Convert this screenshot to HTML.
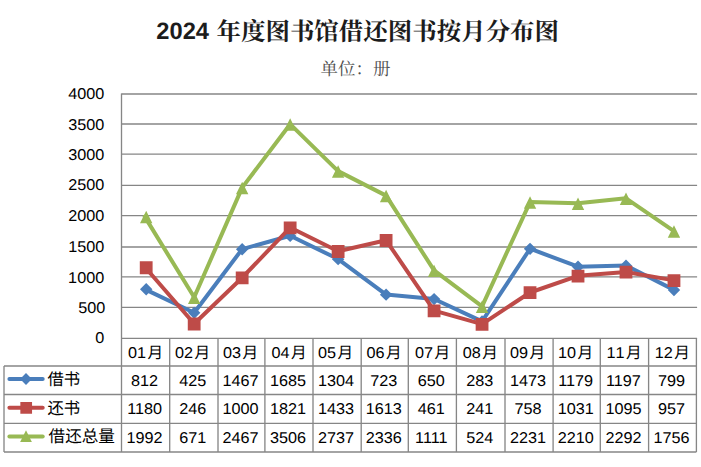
<!DOCTYPE html>
<html lang="zh-CN"><head><meta charset="utf-8">
<title>2024 年度图书馆借还图书按月分布图</title>
<style>
html,body{margin:0;padding:0;background:#fff;}
body{width:701px;height:467px;overflow:hidden;font-family:"Liberation Sans",sans-serif;}
svg{display:block;}
text{font-family:"Liberation Sans","Noto Sans CJK SC",sans-serif;text-rendering:geometricPrecision;}
.num{font-size:15.6px;fill:#000;}
.grid{stroke:#868686;stroke-width:1.33;fill:none;}
.s{fill:none;stroke-width:4;stroke-linejoin:round;stroke-linecap:round;}
.b{stroke:#4a7ebb}.r{stroke:#be4b48}.g{stroke:#98b954}
.bm{fill:#4a7ebb}.rm{fill:#be4b48}.gm{fill:#98b954}
.cjk{fill:#000}
.serif{font-family:"Liberation Serif","Noto Serif CJK SC",serif;}
</style></head><body>
<svg width="701" height="467" viewBox="0 0 701 467" role="img" aria-label="2024 年度图书馆借还图书按月分布图">
<rect width="701" height="467" fill="#fff"/>
<g id="title" aria-label="2024 年度图书馆借还图书按月分布图">
<text x="156.3" y="39.2" font-size="23.7" font-weight="bold" fill="#1c1c1c">2024</text>
<text class="serif" x="216.5" y="39.6" font-size="24.47" font-weight="bold" fill="#1c1c1c">年度图书馆借还图书按月分布图</text>
</g>
<g id="subtitle" aria-label="单位：册">
<text class="serif" x="320.5" y="75.3" font-size="17.5" fill="#4d4d4d">单位：册</text>
</g>
<g id="grid" class="grid">
<line x1="121.5" y1="338.3" x2="697.1" y2="338.3"/>
<line x1="121.5" y1="307.3" x2="697.1" y2="307.3"/>
<line x1="121.5" y1="276.9" x2="697.1" y2="276.9"/>
<line x1="121.5" y1="247" x2="697.1" y2="247"/>
<line x1="121.5" y1="215.55" x2="697.1" y2="215.55"/>
<line x1="121.5" y1="185.45" x2="697.1" y2="185.45"/>
<line x1="121.5" y1="154.2" x2="697.1" y2="154.2"/>
<line x1="121.5" y1="124" x2="697.1" y2="124"/>
<line x1="121.5" y1="94" x2="697.1" y2="94"/>
<line x1="121.5" y1="93.5" x2="121.5" y2="452"/>
</g>
<g id="yaxis" class="num" text-anchor="end">
<text transform="translate(104.4,343) scale(1.04,1)">0</text>
<text transform="translate(105.3,313) scale(1.04,1)">500</text>
<text transform="translate(104.2,282.8) scale(1.04,1)">1000</text>
<text transform="translate(104.3,251.6) scale(1.04,1)">1500</text>
<text transform="translate(104.3,221.4) scale(1.04,1)">2000</text>
<text transform="translate(104.3,189.8) scale(1.04,1)">2500</text>
<text transform="translate(104.3,160.1) scale(1.04,1)">3000</text>
<text transform="translate(104.3,130) scale(1.04,1)">3500</text>
<text transform="translate(104.4,98.5) scale(1.04,1)">4000</text>
</g>
<g id="series-borrow" aria-label="借书">
<polyline class="s b" points="144.7,289.11 194.18,312.74 242.16,249.1 290.14,235.79 338.12,259.06 386.1,294.54 434.08,299 482.06,321.42 530.04,248.74 578.02,266.69 626,265.59 673.98,289.9"/>
<path class="bm" d="M146.2 283.01L152.4 289.21L146.2 295.41L140 289.21ZM194.18 306.64L200.38 312.84L194.18 319.04L187.98 312.84ZM242.16 243L248.36 249.2L242.16 255.4L235.96 249.2ZM290.14 229.69L296.34 235.89L290.14 242.09L283.94 235.89ZM338.12 252.96L344.32 259.16L338.12 265.36L331.92 259.16ZM386.1 288.44L392.3 294.64L386.1 300.84L379.9 294.64ZM434.08 292.9L440.28 299.1L434.08 305.3L427.88 299.1ZM482.06 315.32L488.26 321.52L482.06 327.72L475.86 321.52ZM530.04 242.64L536.24 248.84L530.04 255.04L523.84 248.84ZM578.02 260.59L584.22 266.79L578.02 272.99L571.82 266.79ZM626 259.49L632.2 265.69L626 271.89L619.8 265.69ZM673.98 283.8L680.18 290L673.98 296.2L667.78 290Z"/>
</g>
<g id="series-return" aria-label="还书">
<polyline class="s r" points="144.7,266.73 194.18,323.78 242.16,277.73 290.14,227.58 338.12,251.28 386.1,240.29 434.08,310.64 482.06,324.08 530.04,292.51 578.02,275.83 626,271.92 673.98,280.35"/>
<path class="rm" d="M139.8 261.33h12.8v12.8h-12.8ZM187.78 317.58h12.8v12.8h-12.8ZM235.76 271.53h12.8v12.8h-12.8ZM283.74 221.38h12.8v12.8h-12.8ZM331.72 245.08h12.8v12.8h-12.8ZM379.7 234.09h12.8v12.8h-12.8ZM427.68 304.44h12.8v12.8h-12.8ZM475.66 317.88h12.8v12.8h-12.8ZM523.64 286.31h12.8v12.8h-12.8ZM571.62 269.63h12.8v12.8h-12.8ZM619.6 265.72h12.8v12.8h-12.8ZM667.58 274.15h12.8v12.8h-12.8Z"/>
</g>
<g id="series-total" aria-label="借还总量">
<polyline class="s g" points="144.7,216.64 194.18,297.32 242.16,187.63 290.14,124.17 338.12,171.14 386.1,195.63 434.08,270.45 482.06,306.3 530.04,202.04 578.02,203.32 626,198.32 673.98,231.05"/>
<path class="gm" d="M146.2 210.84L152.4 223.24L140 223.24ZM194.18 291.52L200.38 303.92L187.98 303.92ZM242.16 181.83L248.36 194.23L235.96 194.23ZM290.14 118.37L296.34 130.77L283.94 130.77ZM338.12 165.34L344.32 177.74L331.92 177.74ZM386.1 189.83L392.3 202.23L379.9 202.23ZM434.08 264.65L440.28 277.05L427.88 277.05ZM482.06 300.5L488.26 312.9L475.86 312.9ZM530.04 196.24L536.24 208.64L523.84 208.64ZM578.02 197.52L584.22 209.92L571.82 209.92ZM626 192.52L632.2 204.92L619.8 204.92ZM673.98 225.25L680.18 237.65L667.78 237.65Z"/>
</g>
<g id="table-lines" class="grid">
<line x1="169.7" y1="338.3" x2="169.7" y2="452"/>
<line x1="218" y1="338.3" x2="218" y2="452"/>
<line x1="264.9" y1="338.3" x2="264.9" y2="452"/>
<line x1="313" y1="338.3" x2="313" y2="452"/>
<line x1="361.2" y1="338.3" x2="361.2" y2="452"/>
<line x1="408.3" y1="338.3" x2="408.3" y2="452"/>
<line x1="456.4" y1="338.3" x2="456.4" y2="452"/>
<line x1="505" y1="338.3" x2="505" y2="452"/>
<line x1="553.1" y1="338.3" x2="553.1" y2="452"/>
<line x1="600.3" y1="338.3" x2="600.3" y2="452"/>
<line x1="648.6" y1="338.3" x2="648.6" y2="452"/>
<line x1="696.4" y1="338.3" x2="696.4" y2="452"/>
<line x1="4" y1="366" x2="4" y2="452"/>
<line x1="4" y1="366" x2="696.4" y2="366"/>
<line x1="4" y1="394.5" x2="696.4" y2="394.5"/>
<line x1="4" y1="423.3" x2="696.4" y2="423.3"/>
<line x1="4" y1="452" x2="696.4" y2="452"/>
</g>
<g id="months" class="num" style="font-kerning:none">
<text transform="translate(127.9,357.5) scale(1.04,1)">01</text>
<text transform="translate(175.1,357.5) scale(1.04,1)">02</text>
<text transform="translate(222.9,357.5) scale(1.04,1)">03</text>
<text transform="translate(271.5,357.5) scale(1.04,1)">04</text>
<text transform="translate(317.9,357.5) scale(1.04,1)">05</text>
<text transform="translate(366.5,357.5) scale(1.04,1)">06</text>
<text transform="translate(414.9,357.5) scale(1.04,1)">07</text>
<text transform="translate(462.7,357.5) scale(1.04,1)">08</text>
<text transform="translate(509.9,357.5) scale(1.04,1)">09</text>
<text transform="translate(557.9,357.5) scale(1.04,1)">10</text>
<text transform="translate(606.6,357.5) scale(1.04,1)">11</text>
<text transform="translate(654.65,357.5) scale(1.04,1)">12</text>
<text x="147.4" y="357.5">月</text>
<text x="194.6" y="357.5">月</text>
<text x="242.4" y="357.5">月</text>
<text x="291" y="357.5">月</text>
<text x="337.4" y="357.5">月</text>
<text x="386" y="357.5">月</text>
<text x="434.4" y="357.5">月</text>
<text x="482.2" y="357.5">月</text>
<text x="529.4" y="357.5">月</text>
<text x="577.4" y="357.5">月</text>
<text x="626.1" y="357.5">月</text>
<text x="674.15" y="357.5">月</text>
</g>
<g id="cells" class="num" text-anchor="middle">
<text transform="translate(144.6,385.65) scale(1.04,1)">812</text>
<text transform="translate(192.85,385.65) scale(1.04,1)">425</text>
<text transform="translate(240.45,385.65) scale(1.04,1)">1467</text>
<text transform="translate(287.95,385.65) scale(1.04,1)">1685</text>
<text transform="translate(336.1,385.65) scale(1.04,1)">1304</text>
<text transform="translate(383.75,385.65) scale(1.04,1)">723</text>
<text transform="translate(431.35,385.65) scale(1.04,1)">650</text>
<text transform="translate(479.7,385.65) scale(1.04,1)">283</text>
<text transform="translate(528.05,385.65) scale(1.04,1)">1473</text>
<text transform="translate(575.7,385.65) scale(1.04,1)">1179</text>
<text transform="translate(623.45,385.65) scale(1.04,1)">1197</text>
<text transform="translate(671.5,385.65) scale(1.04,1)">799</text>
<text transform="translate(144.6,414.35) scale(1.04,1)">1180</text>
<text transform="translate(192.85,414.35) scale(1.04,1)">246</text>
<text transform="translate(240.45,414.35) scale(1.04,1)">1000</text>
<text transform="translate(287.95,414.35) scale(1.04,1)">1821</text>
<text transform="translate(336.1,414.35) scale(1.04,1)">1433</text>
<text transform="translate(383.75,414.35) scale(1.04,1)">1613</text>
<text transform="translate(431.35,414.35) scale(1.04,1)">461</text>
<text transform="translate(479.7,414.35) scale(1.04,1)">241</text>
<text transform="translate(528.05,414.35) scale(1.04,1)">758</text>
<text transform="translate(575.7,414.35) scale(1.04,1)">1031</text>
<text transform="translate(623.45,414.35) scale(1.04,1)">1095</text>
<text transform="translate(671.5,414.35) scale(1.04,1)">957</text>
<text transform="translate(144.6,443.4) scale(1.04,1)">1992</text>
<text transform="translate(192.85,443.4) scale(1.04,1)">671</text>
<text transform="translate(240.45,443.4) scale(1.04,1)">2467</text>
<text transform="translate(287.95,443.4) scale(1.04,1)">3506</text>
<text transform="translate(336.1,443.4) scale(1.04,1)">2737</text>
<text transform="translate(383.75,443.4) scale(1.04,1)">2336</text>
<text transform="translate(431.35,443.4) scale(1.04,1)">1111</text>
<text transform="translate(479.7,443.4) scale(1.04,1)">524</text>
<text transform="translate(528.05,443.4) scale(1.04,1)">2231</text>
<text transform="translate(575.7,443.4) scale(1.04,1)">2210</text>
<text transform="translate(623.45,443.4) scale(1.04,1)">2292</text>
<text transform="translate(671.5,443.4) scale(1.04,1)">1756</text>
</g>
<g id="legend">
<line class="s b" x1="9.4" y1="379" x2="42.7" y2="379"/>
<line class="s r" x1="9.4" y1="407.7" x2="42.7" y2="407.7"/>
<line class="s g" x1="9.4" y1="436.5" x2="42.7" y2="436.5"/>
<path class="bm" d="M26 373.1L31.9 379L26 384.9L20.1 379Z"/>
<path class="rm" d="M20.35 401.95h11.7v11.7h-11.7Z"/>
<path class="gm" d="M26 430.3L31.9 442.1L20.1 442.1Z"/>
<text class="cjk" x="47.4" y="384.9" font-size="16.4">借书</text>
<text class="cjk" x="47.4" y="413.7" font-size="16.4">还书</text>
<text class="cjk" x="48.6" y="442.2" font-size="16.6">借还总量</text>
</g>
</svg>
</body></html>
